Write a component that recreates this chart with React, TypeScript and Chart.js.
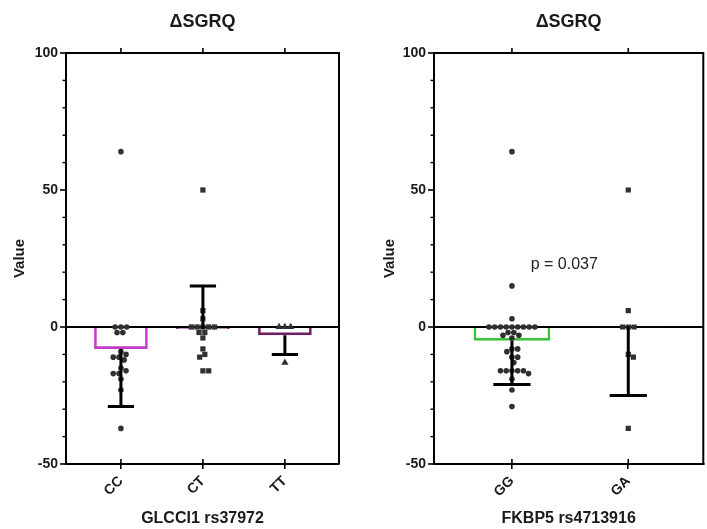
import React, { useEffect, useRef } from "react";
import { Chart, registerables } from "chart.js";

Chart.register(...registerables);

// ---------------- DATA ----------------
const chartTitle = "ΔSGRQ";
const yAxisTitle = "Value";
const yMajorTicks = [100, 50, 0, -50];

const leftCategories = ["CC", "CT", "TT"];
const leftAxisTitle = "GLCCI1 rs37972";
const ccValues = [64, 0, 0, 0, -2, -2, -9, -10, -11, -11, -12, -15, -16, -17, -17, -19, -23, -37];
const ctValues = [50, 6, 3, 0, 0, 0, 0, 0, -2, -2, -4, -8, -10, -11, -16, -16];
const ttValues = [0, 0, 0, -13];
const leftMeans = [-8, -0.7, -3];
const leftErrorEnds = [-29, 15, -10];

const rightCategories = ["GG", "GA"];
const rightAxisTitle = "FKBP5 rs4713916";
const ggValues = [64, 15, 3, 0, 0, 0, 0, 0, 0, 0, 0, 0, -2, -2, -3, -3, -4, -8, -8, -9, -11, -11, -13, -16, -16, -16, -16, -16, -17, -19, -23, -29];
const gaValues = [50, 6, 0, 0, 0, -10, -11, -37];
const rightMeans = [-5, 0.3];
const rightErrorEnds = [-21, -25];
const pValueText = "p = 0.037";
const pValuePos = { x: 0.45, y: 22.7 };

// ---------------- STYLE ----------------
const FONT = '"Liberation Sans", Arial, Helvetica, sans-serif';
const INK = "#1a1a1a";
const POINT = "#303030";

Chart.defaults.font.family = FONT;

// deterministic beeswarm layout (pixel based), returns x offsets in category units
function swarm(values: number[], pxPerX: number, pxPerY: number, d: number): number[] {
  const order = values.map((_, i) => i).sort((a, b) => values[b] - values[a]);
  const placed: { x: number; y: number }[] = [];
  const out: number[] = new Array(values.length).fill(0);
  for (const i of order) {
    const y = values[i] * pxPerY;
    const near = placed.filter((p) => Math.abs(p.y - y) < d);
    const cands = [0];
    for (const p of near) {
      const dx = Math.sqrt(Math.max(0, d * d - (p.y - y) * (p.y - y)));
      cands.push(p.x + dx, p.x - dx);
    }
    cands.sort((a, b) => Math.abs(a) - Math.abs(b));
    let best = 0;
    for (const c of cands) {
      if (near.every((p) => (p.x - c) * (p.x - c) + (p.y - y) * (p.y - y) >= d * d - 1e-6)) {
        best = c;
        break;
      }
    }
    placed.push({ x: best, y });
    out[i] = best / pxPerX;
  }
  return out;
}

type PanelSpec = {
  categories: string[];
  groups: { values: number[]; style: string; radius: number }[];
  means: number[];
  errorEnds: number[];
  barColors: string[];
  axisTitle: string;
  xMin: number;
  xMax: number;
  pxPerX: number;
  yAxisWidth: number;
  yTitlePad: number;
  padRight: number;
  capHalf: number;
  barPct: number;
  note?: { text: string; x: number; y: number };
};

const PX_PER_Y = 2.74;

function buildConfig(p: PanelSpec): any {
  const scatterSets = p.groups.map((g, gi) => {
    const offs = swarm(g.values, p.pxPerX, PX_PER_Y, 5.8);
    return {
      type: "scatter",
      order: 0,
      data: g.values.map((v, k) => ({ x: gi + offs[k], y: v })),
      pointStyle: g.style,
      pointRadius: g.radius,
      pointBackgroundColor: POINT,
      pointBorderWidth: 0,
      pointHoverRadius: g.radius,
    };
  });

  const barSet = {
    type: "bar",
    order: 1,
    data: p.means.map((m, i) => ({ x: i, y: m })),
    backgroundColor: "rgba(255,255,255,0)",
    borderColor: p.barColors,
    borderWidth: 2.6,
    barPercentage: p.barPct,
    categoryPercentage: 1,
  };

  const decor = {
    id: "decor",
    afterDatasetsDraw(chart: any) {
      const { ctx, scales } = chart;
      const xs = scales.x;
      const ys = scales.y;
      ctx.save();
      ctx.strokeStyle = "#000";
      ctx.lineWidth = 3;
      ctx.lineCap = "butt";
      p.means.forEach((m, i) => {
        const x = xs.getPixelForValue(i);
        const y1 = ys.getPixelForValue(m);
        const y2 = ys.getPixelForValue(p.errorEnds[i]);
        ctx.beginPath();
        ctx.moveTo(x, y1);
        ctx.lineTo(x, y2);
        ctx.moveTo(xs.getPixelForValue(i - p.capHalf), y2);
        ctx.lineTo(xs.getPixelForValue(i + p.capHalf), y2);
        ctx.stroke();
      });
      ctx.restore();
    },
    afterDraw(chart: any) {
      const { ctx, chartArea: a, scales } = chart;
      const xs = scales.x;
      const ys = scales.y;
      ctx.save();
      ctx.strokeStyle = "#000";
      ctx.lineWidth = 2;
      ctx.beginPath();
      ctx.moveTo(a.left - 1, a.top);
      ctx.lineTo(a.right, a.top);
      ctx.lineTo(a.right, a.bottom);
      ctx.stroke();
      ctx.lineWidth = 1.6;
      p.categories.forEach((_, i) => {
        const x = xs.getPixelForValue(i);
        ctx.beginPath();
        ctx.moveTo(x, a.bottom - 5);
        ctx.lineTo(x, a.bottom);
        ctx.moveTo(x, a.top - 5);
        ctx.lineTo(x, a.top);
        ctx.stroke();
      });
      ctx.lineWidth = 1.4;
      for (let v = -40; v < 100; v += 10) {
        if (yMajorTicks.includes(v)) continue;
        const y = ys.getPixelForValue(v);
        ctx.beginPath();
        ctx.moveTo(a.left - 3.5, y);
        ctx.lineTo(a.left, y);
        ctx.stroke();
      }
      ctx.fillStyle = INK;
      ctx.font = `bold 18px ${FONT}`;
      ctx.textAlign = "center";
      ctx.textBaseline = "middle";
      ctx.fillText(chartTitle, (a.left + a.right) / 2, 22);
      if (p.note) {
        ctx.font = `16px ${FONT}`;
        ctx.fillStyle = "#222";
        ctx.fillText(p.note.text, xs.getPixelForValue(p.note.x), ys.getPixelForValue(p.note.y));
      }
      ctx.restore();
    },
  };

  return {
    type: "bar",
    data: { datasets: [...scatterSets, barSet] },
    plugins: [decor],
    options: {
      responsive: false,
      animation: false,
      events: [],
      layout: { padding: { top: 53, right: p.padRight, left: 0, bottom: 0 } },
      plugins: { legend: { display: false }, tooltip: { enabled: false }, title: { display: false } },
      scales: {
        x: {
          type: "linear",
          offset: false,
          min: p.xMin,
          max: p.xMax,
          afterBuildTicks: (s: any) => {
            s.ticks = p.categories.map((_, i) => ({ value: i }));
          },
          afterFit: (s: any) => {
            s.height = 65;
          },
          ticks: {
            autoSkip: false,
            minRotation: 45,
            maxRotation: 45,
            padding: 4,
            color: INK,
            font: { size: 14, weight: "bold" },
            callback: (_v: any, i: number) => p.categories[i] ?? "",
          },
          grid: { offset: false, drawOnChartArea: false, drawTicks: true, tickLength: 5, color: "#000", lineWidth: 1.6 },
          border: { display: true, color: "#000", width: 2 },
          title: {
            display: true,
            text: p.axisTitle,
            color: INK,
            font: { size: 16, weight: "bold" },
            padding: { top: 0, bottom: 0.5 },
          },
        },
        y: {
          type: "linear",
          min: -50,
          max: 100,
          afterFit: (s: any) => {
            s.width = p.yAxisWidth;
          },
          ticks: {
            stepSize: 10,
            autoSkip: false,
            padding: 2,
            color: INK,
            font: { size: 14, weight: "bold" },
            callback: (v: any) => (yMajorTicks.includes(v) ? String(v) : ""),
          },
          grid: {
            drawOnChartArea: true,
            color: (c: any) => (c.tick && c.tick.value === 0 ? "#000" : "rgba(0,0,0,0)"),
            lineWidth: (c: any) => (c.tick && c.tick.value === 0 ? 2 : 0),
            tickColor: (c: any) => (c.tick && yMajorTicks.includes(c.tick.value) ? "#000" : "rgba(0,0,0,0)"),
            tickWidth: 1.6,
            tickLength: 6,
          },
          border: { display: true, color: "#000", width: 2 },
          title: {
            display: true,
            text: yAxisTitle,
            color: INK,
            font: { size: 15, weight: "bold" },
            padding: { top: p.yTitlePad, bottom: 0 },
          },
        },
      },
    },
  };
}

const leftSpec: PanelSpec = {
  categories: leftCategories,
  groups: [
    { values: ccValues, style: "circle", radius: 2.8 },
    { values: ctValues, style: "rect", radius: 3.7 },
    { values: ttValues, style: "triangle", radius: 4.2 },
  ],
  means: leftMeans,
  errorEnds: leftErrorEnds,
  barColors: ["#c23cc8", "#8a2a8c", "#6e1e62"],
  axisTitle: leftAxisTitle,
  xMin: -0.67,
  xMax: 2.66,
  pxPerX: 82,
  yAxisWidth: 66,
  yTitlePad: 11,
  padRight: 21,
  capHalf: 0.16,
  barPct: 0.655,
};

const rightSpec: PanelSpec = {
  categories: rightCategories,
  groups: [
    { values: ggValues, style: "circle", radius: 2.8 },
    { values: gaValues, style: "rect", radius: 3.7 },
  ],
  means: rightMeans,
  errorEnds: rightErrorEnds,
  barColors: ["#3cc23c", "#2f7d34"],
  axisTitle: rightAxisTitle,
  xMin: -0.67,
  xMax: 1.645,
  pxPerX: 117.3,
  yAxisWidth: 74,
  yTitlePad: 21,
  padRight: 1.5,
  capHalf: 0.16,
  barPct: 0.66,
  note: { text: pValueText, x: pValuePos.x, y: pValuePos.y },
};

function Panel({ spec, left, width }: { spec: PanelSpec; left: number; width: number }) {
  const ref = useRef<HTMLCanvasElement | null>(null);
  useEffect(() => {
    if (!ref.current) return;
    const chart = new Chart(ref.current, buildConfig(spec));
    return () => chart.destroy();
  }, [spec]);
  return (
    <canvas
      ref={ref}
      width={width}
      height={529}
      style={{ position: "absolute", left, top: 0, width, height: 529 }}
    />
  );
}

export default function App() {
  return (
    <div style={{ position: "fixed", left: 0, top: 0, width: 707, height: 529, background: "#fff" }}>
      <Panel spec={leftSpec} left={0} width={360} />
      <Panel spec={rightSpec} left={360} width={347} />
    </div>
  );
}
